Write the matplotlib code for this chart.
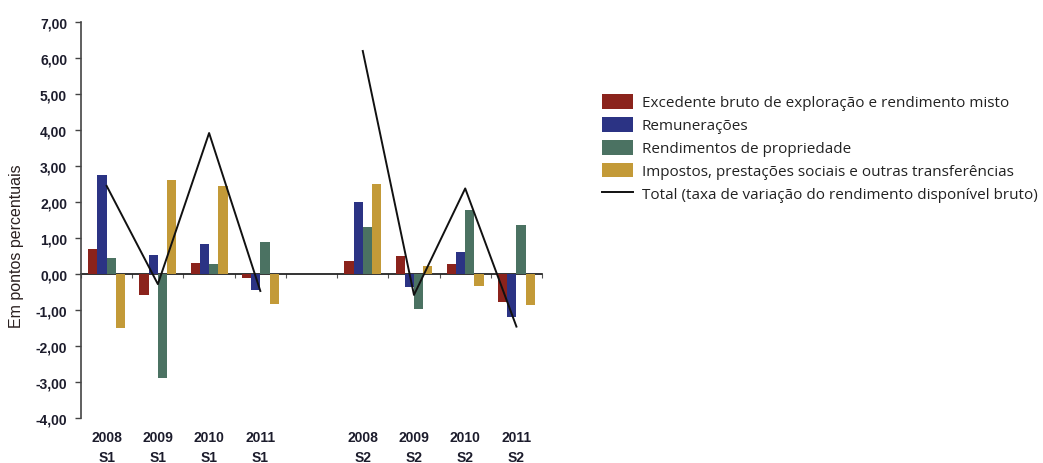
import numpy as np
import matplotlib
matplotlib.use("Agg")
import matplotlib.pyplot as plt

# contributions to the change in gross disposable income (percentage points)
categories = ["2008\nS1", "2009\nS1", "2010\nS1", "2011\nS1", "",
              "2008\nS2", "2009\nS2", "2010\nS2", "2011\nS2"]
excedente = [0.71, -0.58, 0.30, -0.10, np.nan, 0.36, 0.50, 0.28, -0.77]
remuneracoes = [2.74, 0.53, 0.84, -0.44, np.nan, 2.00, -0.36, 0.62, -1.20]
propriedade = [0.45, -2.88, 0.28, 0.89, np.nan, 1.30, -0.96, 1.78, 1.36]
impostos = [-1.51, 2.62, 2.45, -0.83, np.nan, 2.49, 0.22, -0.34, -0.87]
total = [2.45, -0.28, 3.92, -0.47, np.nan, 6.20, -0.58, 2.38, -1.46]

series_names = [
    "Excedente bruto de exploração e rendimento misto",
    "Remunerações",
    "Rendimentos de propriedade",
    "Impostos, prestações sociais e outras transferências",
]
total_name = "Total (taxa de variação do rendimento disponível bruto)"
colors = ["#8B231C", "#2B3384", "#4B7262", "#C39A38"]
tick_font = dict(family="Liberation Sans", fontweight="bold", fontsize=10,
                 color="#1c1c2c")

fig = plt.figure(figsize=(10.43, 4.64), dpi=100)
ax = fig.add_axes([0.0777, 0.097, 0.442, 0.853])

x = np.arange(len(categories))
width = 0.18
offsets = (np.arange(4) - 1.5) * width
for vals, off, col, name in zip([excedente, remuneracoes, propriedade, impostos],
                                offsets, colors, series_names):
    ax.bar(x + off, vals, width=width, color=col, label=name, zorder=2)

ax.plot(x, total, color="#111111", linewidth=1.4, label=total_name, zorder=3)

ax.set_xlim(-0.5, len(categories) - 0.5)
ax.set_ylim(-4, 7)
yt = np.arange(-4, 8, 1)
ax.set_yticks(yt)
ax.set_yticklabels([f"{v:.2f}".replace(".", ",") for v in yt], **tick_font)
ax.tick_params(axis="y", length=4, width=1, color="#444444", pad=6)

ax.set_xticks(x)
ax.set_xticklabels(categories, linespacing=1.5, **tick_font)
ax.tick_params(axis="x", length=0, pad=9)

for s in ["top", "right", "bottom"]:
    ax.spines[s].set_visible(False)
ax.spines["left"].set_color("#444444")
ax.spines["left"].set_linewidth(1.2)

# zero line with category boundary ticks
zero_axis = ax.secondary_xaxis(4 / 11)
zero_axis.set_xticks(np.arange(len(categories) + 1) - 0.5)
zero_axis.set_xticklabels([])
zero_axis.tick_params(length=3, direction="out", color="#555555")
zero_axis.spines["bottom"].set_color("#111111")
zero_axis.spines["bottom"].set_linewidth(1.2)

fig.text(17 / 1043, 1 - 246 / 464, "Em pontos percentuais", rotation=90,
         ha="center", va="center", fontsize=11.5, color="#2a2020",
         family="Liberation Sans")

handles, labels = ax.get_legend_handles_labels()
order = [1, 2, 3, 4, 0]
fig.legend([handles[i] for i in order], [labels[i] for i in order],
           loc="upper left", bbox_to_anchor=(0.564, 0.825), frameon=False,
           prop={"family": "Open Sans", "size": 11}, handlelength=2.0,
           handleheight=1.1, handletextpad=0.6, labelspacing=0.42,
           labelcolor="#222222")

fig.savefig("out.png", dpi=100)
